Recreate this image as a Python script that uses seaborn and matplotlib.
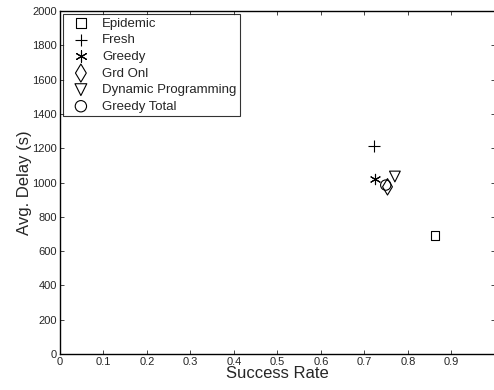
import pandas as pd
import seaborn as sns
import matplotlib.pyplot as plt

methods = ["Epidemic", "Fresh", "Greedy", "Grd Onl", "Dynamic Programming", "Greedy Total"]
success = [0.862, 0.722, 0.724, 0.753, 0.770, 0.749]
delay = [690, 1212, 1018, 975, 1035, 985]

data = pd.DataFrame({"Success Rate": success, "Avg. Delay (s)": delay, "method": methods})

sns.set_style("ticks")
plt.rcParams["font.family"] = ["Liberation Sans", "DejaVu Sans"]
plt.rcParams["xtick.direction"] = "in"
plt.rcParams["ytick.direction"] = "in"

fig = plt.figure(figsize=(4.94, 3.9), dpi=100)
ax = fig.add_axes([0.121, 0.092, 0.881, 0.88])

marks = {"Epidemic": "s", "Fresh": "+", "Greedy": (6, 2, 0), "Grd Onl": "d",
         "Dynamic Programming": "v", "Greedy Total": "o"}
sizes = {"Epidemic": 40, "Fresh": 70, "Greedy": 55, "Grd Onl": 70,
         "Dynamic Programming": 60, "Greedy Total": 55}
for m in methods:
    sub = data[data["method"] == m]
    filled = m in ("Fresh", "Greedy")
    sns.scatterplot(data=sub, x="Success Rate", y="Avg. Delay (s)", ax=ax,
                    marker=marks[m], s=sizes[m], label=m,
                    facecolor="black" if filled else "none",
                    edgecolor="black", color="black", linewidth=0.8)

ax.set_xlim(0, 1)
ax.set_ylim(0, 2000)
ax.set_xticks([0, 0.1, 0.2, 0.3, 0.4, 0.5, 0.6, 0.7, 0.8, 0.9])
ax.set_xticklabels(["0", "0.1", "0.2", "0.3", "0.4", "0.5", "0.6", "0.7", "0.8", "0.9"])
ax.set_yticks(range(0, 2001, 200))
ax.tick_params(labelsize=8, top=True, right=True, length=3, width=0.6, pad=2)
ax.set_xlabel("Success Rate", fontsize=12, labelpad=-1)
ax.set_ylabel("Avg. Delay (s)", fontsize=12, labelpad=0)
for sp in ax.spines.values():
    sp.set_linewidth(1.0)
    sp.set_color("black")

leg = ax.legend(loc="upper left", fontsize=9.5, frameon=True, fancybox=False,
                edgecolor="black", borderpad=0.25, labelspacing=0.33,
                handletextpad=0.5, borderaxespad=0.25, handlelength=2.2,
                markerscale=1.1)
leg.get_frame().set_linewidth(0.8)

fig.savefig("out.png", dpi=100)
